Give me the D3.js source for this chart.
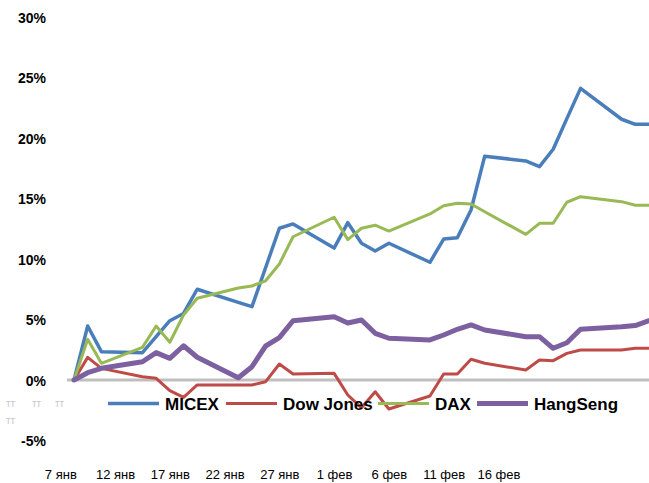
<!DOCTYPE html>
<html><head><meta charset="utf-8">
<script src="https://cdn.jsdelivr.net/npm/d3@7"></script>
<style>
html,body{margin:0;padding:0;background:#fff;}
svg{display:block;}
</style></head>
<body>
<svg id="c" width="649" height="483"></svg>
<script>
// ---- data ----
const tickLabels = ["7 янв","12 янв","17 янв","22 янв","27 янв","1 фев","6 фев","11 фев","16 фев"];
const tickDays = [-1,3,7,11,15,19,23,27,31];
const tradingDays = [0,1,2,5,6,7,8,9,12,13,14,15,16,19,20,21,22,23,26,27,28,29,30,33,34,35,36,37,40,41,42];
const micex = [0,4.46,2.34,2.26,3.58,4.9,5.5,7.5,6.42,6.06,9.3,12.54,12.9,10.9,13.0,11.3,10.66,11.3,9.73,11.65,11.76,14.05,18.5,18.1,17.63,19.07,21.6,24.1,21.55,21.13,21.13];
const dowJones = [0,1.87,0.96,0.27,0.14,-0.88,-1.43,-0.41,-0.41,-0.41,-0.14,1.32,0.5,0.55,-1.24,-2.3,-0.97,-2.4,-1.32,0.5,0.5,1.71,1.38,0.83,1.65,1.6,2.2,2.48,2.48,2.62,2.62];
const dax = [0,3.36,1.38,2.7,4.46,3.12,5.37,6.75,7.6,7.77,8.2,9.59,11.84,13.45,11.6,12.54,12.79,12.31,13.72,14.4,14.6,14.55,13.9,12.04,12.95,12.95,14.69,15.15,14.74,14.44,14.44];
const hangSeng = [0,0.6,0.97,1.51,2.26,1.79,2.83,1.88,0.19,1.1,2.81,3.5,4.9,5.23,4.71,4.96,3.86,3.45,3.31,3.72,4.19,4.55,4.13,3.58,3.58,2.62,3.08,4.19,4.4,4.5,4.9];
const yTicks = [-5,0,5,10,15,20,25,30];
const seriesNames = ["MICEX","Dow Jones","DAX","HangSeng"];
const seriesColors = ["#4a7ebb","#be4b48","#98b954","#7d60a0"];
const seriesWidths = [3.5,3,3,5];
const seriesValues = [micex, dowJones, dax, hangSeng];

// ---- scales ----
const svg = d3.select("#c");
const x = d3.scaleLinear().domain([0,42]).range([74,649]);
const y = d3.scaleLinear().domain([-5,30]).range([440.5,17]);

// zero line
svg.append("line")
  .attr("x1",67).attr("x2",649)
  .attr("y1",y(0)).attr("y2",y(0))
  .attr("stroke","#bfbfbf").attr("stroke-width",3);

// y axis
const yAxis = svg.append("g").attr("transform","translate(46,0)")
  .call(d3.axisLeft(y).tickValues(yTicks).tickSize(0).tickPadding(0).tickFormat(d=>d+"%"));
yAxis.select(".domain").remove();
yAxis.selectAll("text")
  .attr("font-family","'Liberation Sans', Arial, sans-serif")
  .attr("font-size",14).attr("font-weight","bold").attr("fill","#000")
  .attr("dy","0.36em");

// x axis
const xAxis = svg.append("g").attr("transform","translate(0,0)")
  .call(d3.axisBottom(x).tickValues(tickDays).tickSize(0).tickFormat((d,i)=>tickLabels[i]));
xAxis.select(".domain").remove();
xAxis.selectAll("text")
  .attr("font-family","'Liberation Sans', Arial, sans-serif")
  .attr("font-size",13).attr("fill","#000")
  .attr("y",478.5).attr("dy",0);

// lines
const line = d3.line().x(d=>x(d[0])).y(d=>y(d[1])).curve(d3.curveLinear);
seriesValues.forEach((vals,k)=>{
  const pts = tradingDays.map((d,i)=>[d, vals[i]]);
  svg.append("path").datum(pts)
    .attr("d",line)
    .attr("fill","none")
    .attr("stroke",seriesColors[k])
    .attr("stroke-width",seriesWidths[k])
    .attr("stroke-linejoin","round")
    .attr("stroke-linecap","round");
});

// legend
const legendX = [108,226,378,477];
const legend = svg.append("g");
seriesNames.forEach((n,k)=>{
  legend.append("line")
    .attr("x1",legendX[k]).attr("x2",legendX[k]+51)
    .attr("y1",403.5).attr("y2",403.5)
    .attr("stroke",seriesColors[k]).attr("stroke-width",seriesWidths[k]);
  legend.append("text")
    .attr("x",legendX[k]+57).attr("y",409.5)
    .attr("font-family","'Liberation Sans', Arial, sans-serif")
    .attr("font-size",17).attr("font-weight","bold").attr("fill","#000")
    .text(n);
});

// faint marks at left
const marks = [[6,407],[32,407],[55,407],[6,424]];
marks.forEach(m=>{
  svg.append("text").attr("x",m[0]).attr("y",m[1])
    .attr("font-family","'Liberation Sans', Arial, sans-serif")
    .attr("font-size",10).attr("fill","#c8c8c8").text("тт");
});
</script>
</body></html>
